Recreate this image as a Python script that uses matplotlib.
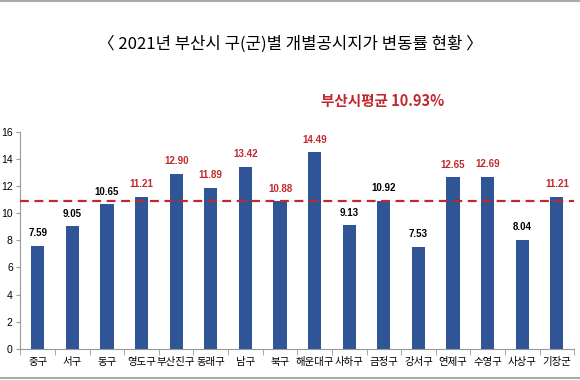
import numpy as np
import matplotlib
matplotlib.use("Agg")
import matplotlib.pyplot as plt

plt.rcParams['font.family'] = ['Noto Sans CJK KR', 'DejaVu Sans']

districts = ["중구", "서구", "동구", "영도구", "부산진구", "동래구", "남구", "북구",
             "해운대구", "사하구", "금정구", "강서구", "연제구", "수영구", "사상구", "기장군"]
rates = [7.59, 9.05, 10.65, 11.21, 12.90, 11.89, 13.42, 10.88,
         14.49, 9.13, 10.92, 7.53, 12.65, 12.69, 8.04, 11.21]
label_red = [False, False, False, True, True, True, True, True,
             True, False, False, False, True, True, False, True]
busan_avg = 10.93

bar_color = "#2F5597"
red = "#C0282D"

fig = plt.figure(figsize=(5.8, 3.8), dpi=100)
ax = fig.add_axes([0.034, 0.082, 0.956, 0.571])

x = np.arange(len(districts))
ax.bar(x, rates, width=0.38, color=bar_color, zorder=2)
ax.axhline(busan_avg, color=red, linestyle=(0, (4, 2.5)), linewidth=1.6, zorder=3)

# value labels above each bar
for xi, v, r in zip(x, rates, label_red):
    ax.text(xi, v + 0.55, f"{v:.2f}", ha="center", va="bottom", fontsize=7,
            fontweight="bold", color=red if r else "black", family="Liberation Sans")

ax.set_ylim(0, 16)
ax.set_xlim(-0.52, 15.47)
ax.set_yticks(range(0, 17, 2))
ax.tick_params(axis="y", length=3, color="#999999", pad=2)
for lab in ax.get_yticklabels():
    lab.set_family("Liberation Sans")
    lab.set_fontsize(7.5)
ax.set_xticks(x)
ax.set_xticklabels(districts, fontsize=7.5)
ax.set_xticks(np.arange(-0.5, 16, 1), minor=True)
ax.tick_params(axis="x", which="major", length=0, pad=6)
ax.tick_params(axis="x", which="minor", length=4, color="#999999")
for s in ["top", "right"]:
    ax.spines[s].set_visible(False)
ax.spines["left"].set_color("#999999")
ax.spines["bottom"].set_color("#999999")

fig.text(0.5, 0.885, "〈 2021년 부산시 구(군)별 개별공시지가 변동률 현황 〉",
         ha="center", va="center", fontsize=12)
fig.text(0.66, 0.735, "부산시평균 10.93%", ha="center", va="center",
         fontsize=10.5, fontweight="bold", color=red)

# frame lines at top and bottom of the image
fig.add_artist(plt.Line2D([0, 1], [0.997, 0.997], color="#aaaaaa", linewidth=1.5))
fig.add_artist(plt.Line2D([0, 1], [0.006, 0.006], color="#aaaaaa", linewidth=1.5))

fig.savefig("out.png", dpi=100)
